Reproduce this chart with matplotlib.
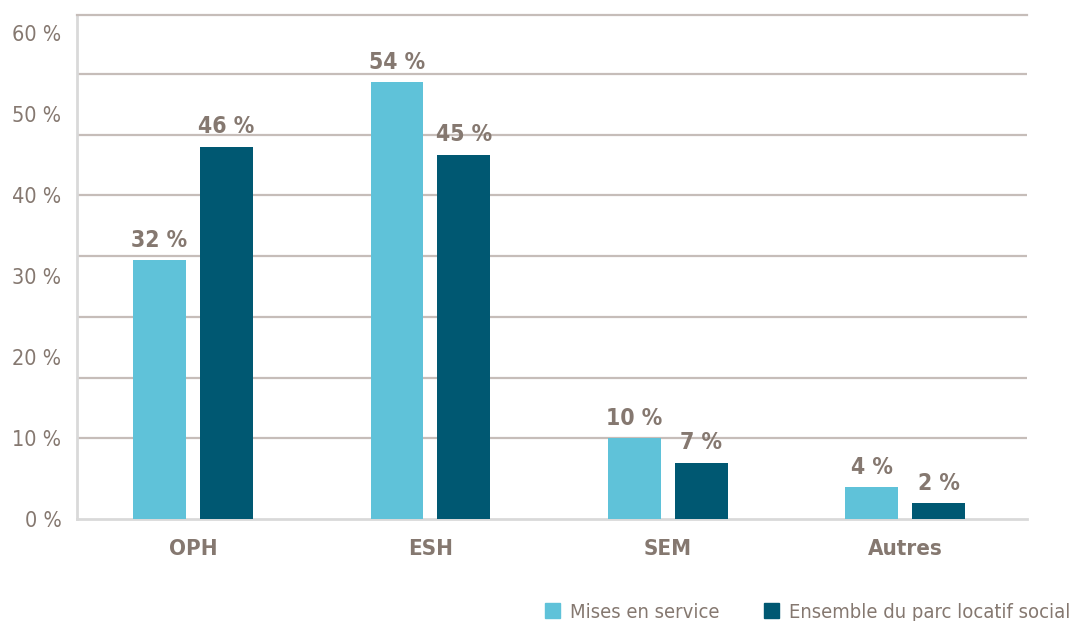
import matplotlib
matplotlib.use("Agg")
import matplotlib.pyplot as plt
from matplotlib.patches import Patch
import numpy as np

plt.rcParams['font.family'] = ['DejaVu Sans']
plt.rcParams['font.stretch'] = 'condensed'

categories = ["OPH", "ESH", "SEM", "Autres"]
mises_en_service = [32, 54, 10, 4]
ensemble_parc = [46, 45, 7, 2]
series_names = ["Mises en service", "Ensemble du parc locatif social"]
y_ticks = [0, 10, 20, 30, 40, 50, 60]
grid_levels = [10, 17.5, 25, 32.5, 40, 47.5, 55]

light = "#5fc2d9"
dark = "#005872"
text_col = "#857870"
grid_col = "#c6bdb9"
axis_col = "#d9d9d9"

fig = plt.figure(figsize=(10.75, 6.21), dpi=100)
ax = fig.add_axes([0.0712, 0.1638, 0.8846, 0.8125])

x = np.arange(len(categories))
w = 0.223
off = 0.141
b1 = ax.bar(x - off, mises_en_service, w, color=light, zorder=3)
b2 = ax.bar(x + off, ensemble_parc, w, color=dark, zorder=3)

for bars, vals in ((b1, mises_en_service), (b2, ensemble_parc)):
    for rect, v in zip(bars, vals):
        ax.annotate(f"{v} %", (rect.get_x() + rect.get_width() / 2, v),
                    xytext=(0, 6), textcoords="offset points",
                    ha="center", va="bottom", fontsize=16.5,
                    fontweight="bold", color=text_col)

for g in grid_levels:
    ax.axhline(g, color=grid_col, lw=1.6, zorder=1)

ax.set_ylim(0, 62.3)
ax.set_xlim(-0.4905, 3.514)
ax.set_yticks(y_ticks)
ax.set_yticklabels([f"{t} %" for t in y_ticks], fontsize=15.5, color=text_col)
ax.set_xticks(x)
ax.set_xticklabels(categories, fontsize=16, fontweight="bold", color=text_col)
ax.tick_params(axis="y", length=0, pad=11)
ax.tick_params(axis="x", length=0, pad=14)

ax.spines["right"].set_visible(False)
ax.spines["top"].set_color(grid_col)
ax.spines["top"].set_linewidth(1.6)
ax.spines["left"].set_color(axis_col)
ax.spines["left"].set_linewidth(2)
ax.spines["bottom"].set_color(axis_col)
ax.spines["bottom"].set_linewidth(2)

handles = [Patch(color=light), Patch(color=dark)]
fig.legend(handles, series_names, loc="lower right", bbox_to_anchor=(1.013, -0.03),
           ncol=2, frameon=False, fontsize=14.5, handlelength=0.75, handleheight=0.75,
           handletextpad=0.5, columnspacing=2.2, labelcolor=text_col)

fig.savefig("out.png", dpi=100)
